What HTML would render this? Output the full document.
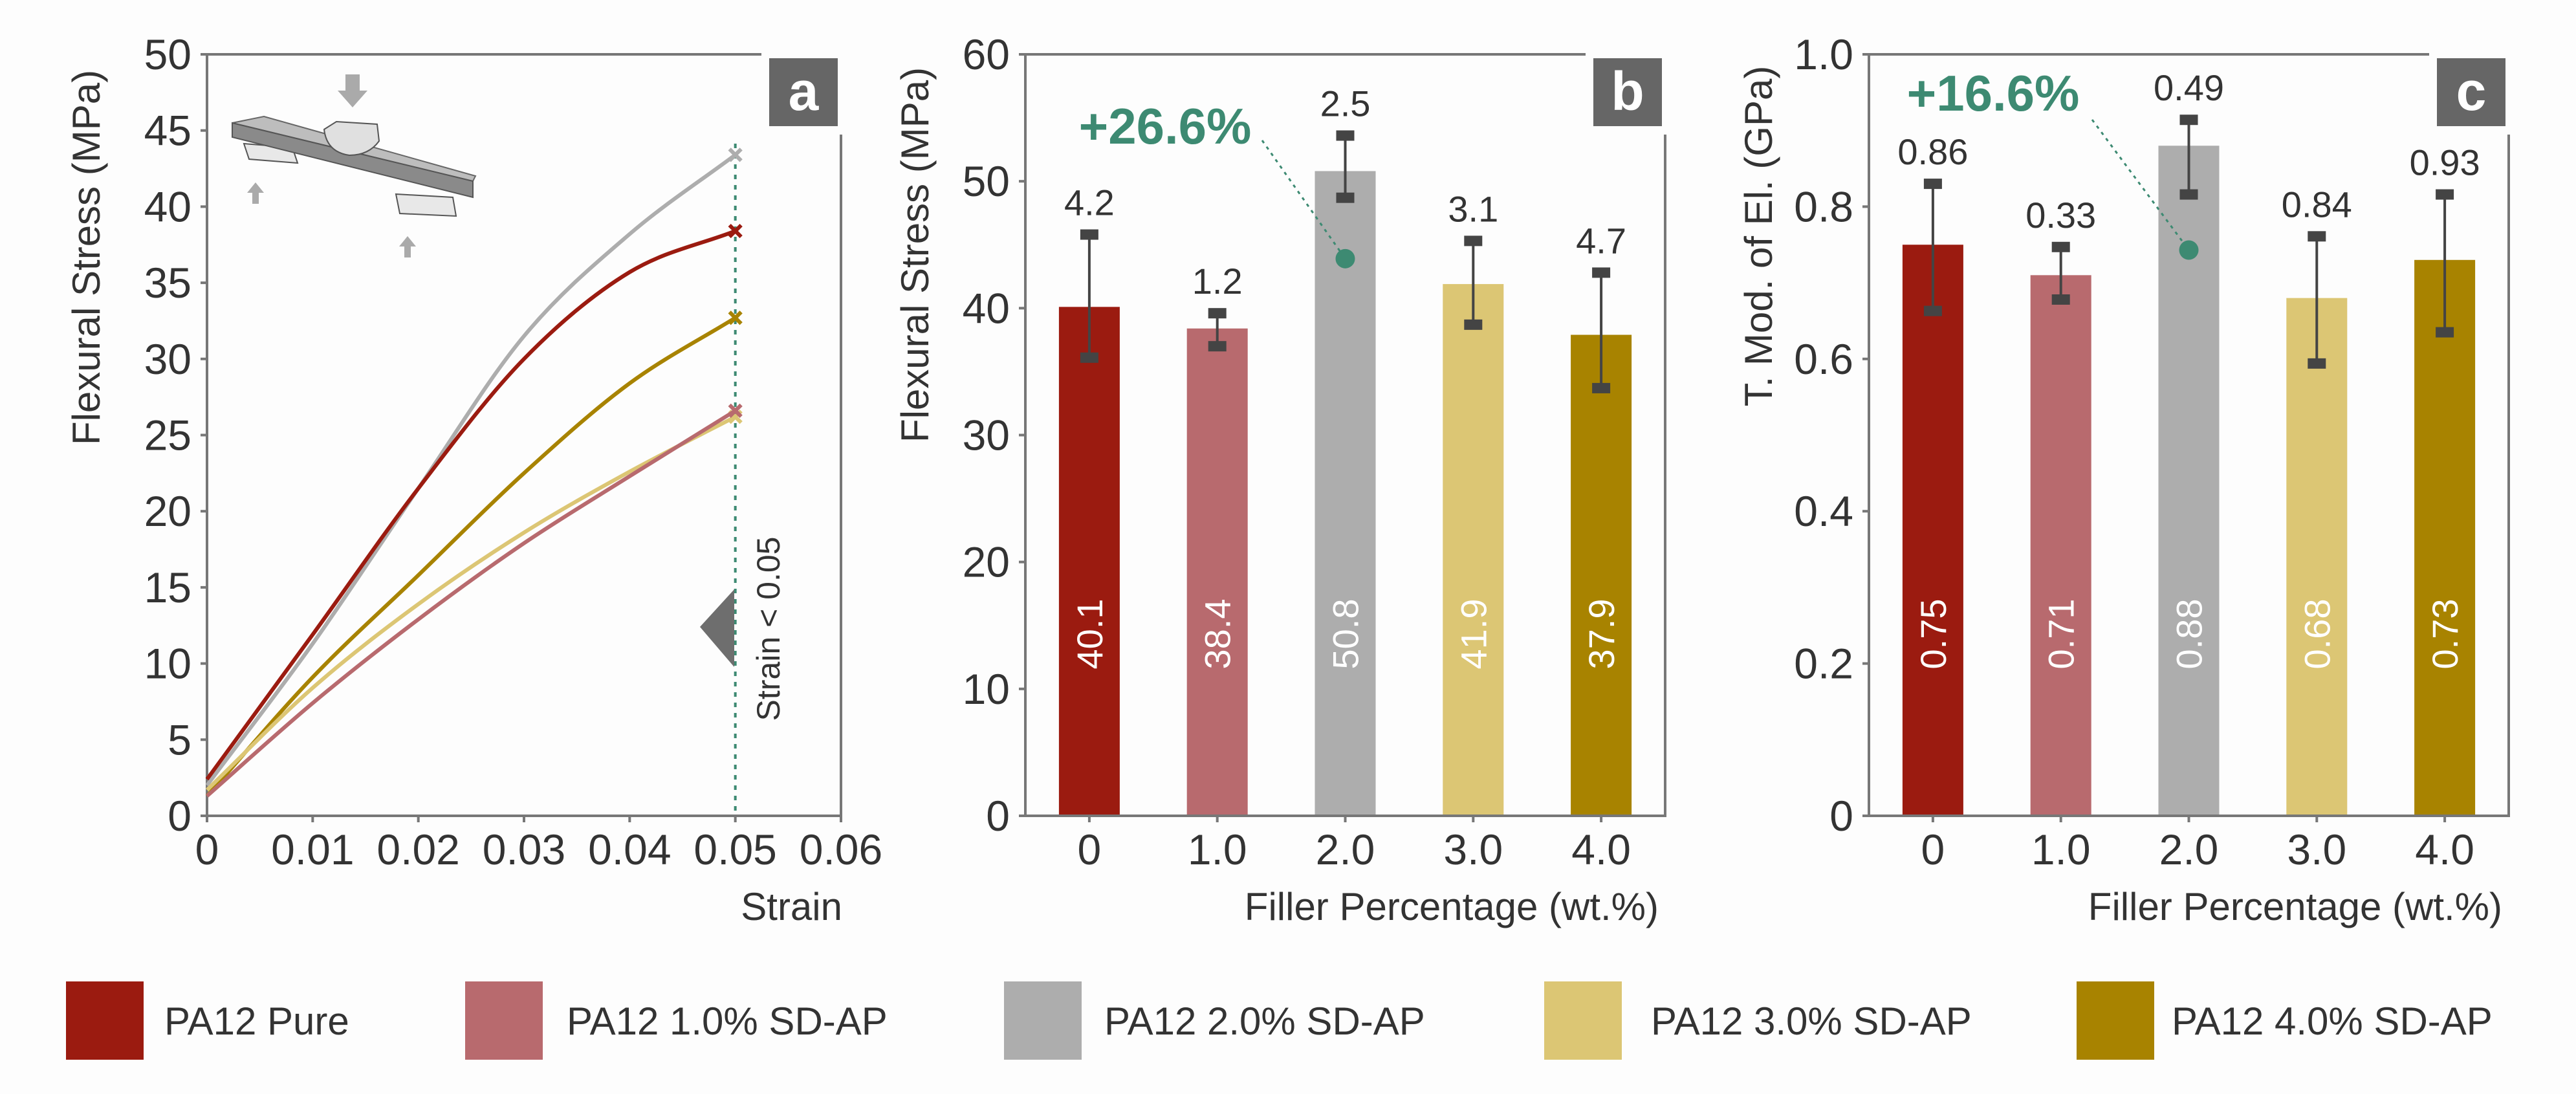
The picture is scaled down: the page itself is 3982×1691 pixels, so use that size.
<!DOCTYPE html>
<html><head><meta charset="utf-8">
<style>
html,body{margin:0;padding:0;background:#fff;}
svg{display:block;}
text{font-family:"Liberation Sans",sans-serif;fill:#333;}
</style></head>
<body>
<svg id="fig" xmlns="http://www.w3.org/2000/svg" width="3982" height="1691" viewBox="0 0 3982 1691">
<rect x="0" y="0" width="3982" height="1691" fill="#fdfdfd"/>
<g id="panelA"></g>
<g id="panelB"></g>
<g id="panelC"></g>
<g id="legend"></g>
</svg>
<script>
// ---------- data ----------
const seriesNames = ["PA12 Pure","PA12 1.0% SD-AP","PA12 2.0% SD-AP","PA12 3.0% SD-AP","PA12 4.0% SD-AP"];
const seriesColors = ["#9b1b10","#b86a6e","#adadad","#dcc674","#a88300"];
// panel a: stress at strain points
const strainPts = [0,0.01,0.02,0.03,0.04,0.05];
const curvePure = [2.4,11.9,21.5,30.0,35.7,38.4];
const curve10 = [1.3,7.4,12.9,17.9,22.3,26.6];
const curve20 = [2.0,11.3,21.5,31.5,38.2,43.4];
const curve30 = [1.7,8.4,13.9,18.6,22.6,26.2];
const curve40 = [1.3,9.1,15.8,22.5,28.4,32.7];
const aYTicks = [0,5,10,15,20,25,30,35,40,45,50];
const aXTicks = [0,0.01,0.02,0.03,0.04,0.05,0.06];
const aXTickLabels = ["0","0.01","0.02","0.03","0.04","0.05","0.06"];
// panel b
const categories = ["0","1.0","2.0","3.0","4.0"];
const bValues = [40.1,38.4,50.8,41.9,37.9];
const bSD = ["4.2","1.2","2.5","3.1","4.7"];
const bErrHi = [45.8,39.6,53.6,45.3,42.8];
const bErrLo = [36.1,37.0,48.7,38.7,33.7];
const bYTicks = [0,10,20,30,40,50,60];
const bMarker = 43.9;
// panel c
const cValues = [0.75,0.71,0.88,0.68,0.73];
const cSD = ["0.86","0.33","0.49","0.84","0.93"];
const cErrHi = [0.83,0.747,0.914,0.761,0.816];
const cErrLo = [0.663,0.678,0.816,0.594,0.635];
const cYTicks = [0,0.2,0.4,0.6,0.8,1.0];
const cYTickLabels = ["0","0.2","0.4","0.6","0.8","1.0"];
const cMarker = 0.743;

const NS="http://www.w3.org/2000/svg";
function mk(parent,tag,attrs,txt){const e=document.createElementNS(NS,tag);for(const k in attrs)e.setAttribute(k,attrs[k]);if(txt!==undefined)e.textContent=txt;parent.appendChild(e);return e;}

const AX="#777", Y0=1261, YTOP=84;

function frame(g,left,right,letter){
  let e;
  e=mk(g,'line',{x1:left,y1:YTOP-2,x2:left,y2:Y0,stroke:AX,'stroke-width':4});
  
  e=mk(g,'line',{x1:left-10,y1:Y0,x2:right+2,y2:Y0,stroke:AX,'stroke-width':4});
  
  e=mk(g,'line',{x1:left-10,y1:YTOP,x2:right-123,y2:YTOP,stroke:AX,'stroke-width':4});
  
  e=mk(g,'line',{x1:right,y1:208,x2:right,y2:Y0,stroke:AX,'stroke-width':4});
  
  e=mk(g,'rect',{x:right-111,y:90,width:106,height:105,fill:'#666'});
  
  e=mk(g,'text',{x:right-58,y:170,'text-anchor':'middle','font-size':84,'font-weight':'bold',style:'fill:#fff'},letter);
  
}

// ---------- panel a ----------
(function(){
  const g=document.getElementById('panelA');
  const L=320,R=1300;
  const xs=v=>L+v/0.06*(R-L);
  const ys=v=>Y0-v/50*(Y0-YTOP);
  frame(g,L,R,'a');
  aYTicks.forEach(t=>{
    let e=mk(g,'line',{x1:L-10,y1:ys(t),x2:L,y2:ys(t),stroke:AX,'stroke-width':4});
    
    e=mk(g,'text',{x:L-24,y:ys(t)+23,'text-anchor':'end','font-size':66},String(t));
    
  });
  aXTicks.forEach((t,i)=>{
    let e=mk(g,'line',{x1:xs(t),y1:Y0,x2:xs(t),y2:Y0+10,stroke:AX,'stroke-width':4});
    
    e=mk(g,'text',{x:xs(t),y:1336,'text-anchor':'middle','font-size':66},aXTickLabels[i]);
    
  });
  let e=mk(g,'text',{x:1302,y:1422,'text-anchor':'end','font-size':60},'Strain');
  
  e=mk(g,'text',{x:0,y:0,'text-anchor':'middle','font-size':60,transform:'translate(154,398) rotate(-90)'},'Flexural Stress (MPa)');
  
  const ill=mk(g,'g',{});
  
  mk(ill,'path',{d:'M377 222 L452 228 L460 252 L385 246 Z',fill:'#e8e8e8',stroke:'#555','stroke-width':2});
  mk(ill,'path',{d:'M612 300 L700 305 L705 334 L618 330 Z',fill:'#e8e8e8',stroke:'#555','stroke-width':2});
  mk(ill,'path',{d:'M359 190 L408 180 L735 272 L731 280 Z',fill:'#bdbdbd',stroke:'#666','stroke-width':2});
  mk(ill,'path',{d:'M359 190 L731 280 L731 305 L359 212 Z',fill:'#8a8a8a',stroke:'#555','stroke-width':2});
  mk(ill,'path',{d:'M501 200 L520 188 L583 192 L586 218 Q570 240 540 240 Q505 235 501 200 Z',fill:'#e0e0e0',stroke:'#555','stroke-width':2});
  mk(ill,'path',{d:'M534 115 L556 115 L556 140 L568 140 L545 166 L522 140 L534 140 Z',fill:'#aaa'});
  mk(ill,'path',{d:'M395 282 L408 298 L400 298 L400 315 L390 315 L390 298 L382 298 Z',fill:'#aaa'});
  mk(ill,'path',{d:'M630 365 L643 381 L635 381 L635 398 L625 398 L625 381 L617 381 Z',fill:'#aaa'});
  e=mk(g,'line',{x1:xs(0.05),y1:222,x2:xs(0.05),y2:Y0,stroke:'#3d8a72','stroke-width':4,'stroke-dasharray':'7 9'});
  
  e=mk(g,'path',{d:'M1082 969 L1135 911 L1135 1031 Z',fill:'#6e6e6e'});
  
  e=mk(g,'text',{x:0,y:0,'text-anchor':'middle','font-size':50,transform:'translate(1205,972) rotate(-90)'},'Strain < 0.05');
  
  const curves=[curvePure,curve10,curve20,curve30,curve40];
  const order=[2,0,4,3,1];
  order.forEach(si=>{
    const c=curves[si];
    const P=strainPts.map((s,i)=>[xs(s),ys(c[i])]);
    let d='M'+P[0][0]+' '+P[0][1];
    for(let i=0;i<P.length-1;i++){
      const p1=P[i],p2=P[i+1];
      const p0=i>0?P[i-1]:[2*p1[0]-p2[0],2*p1[1]-p2[1]];
      const p3=i+2<P.length?P[i+2]:[2*p2[0]-p1[0],2*p2[1]-p1[1]];
      const c1=[p1[0]+(p2[0]-p0[0])/6,p1[1]+(p2[1]-p0[1])/6];
      const c2=[p2[0]-(p3[0]-p1[0])/6,p2[1]-(p3[1]-p1[1])/6];
      d+=` C${c1[0]} ${c1[1]} ${c2[0]} ${c2[1]} ${p2[0]} ${p2[1]}`;
    }
    const path=mk(g,'path',{d:d,fill:'none',stroke:seriesColors[si],'stroke-width':6});
    
    
    const end=P[P.length-1];
    const m=mk(g,'path',{d:`M${end[0]-9} ${end[1]-9} L${end[0]+9} ${end[1]+9} M${end[0]-9} ${end[1]+9} L${end[0]+9} ${end[1]-9}`,stroke:seriesColors[si],'stroke-width':6,fill:'none'});
    
    
  });
})();

// ---------- bar panels ----------
function barPanel(gid,L,letter,vals,sdl,hi,lo,yTicks,yLabels,yMax,yTitle,pct,pctPos,marker,valFmt){
  const g=document.getElementById(gid);
  const R=L+989;
  const band=(R-L)/vals.length;
  const xc=i=>L+band*(i+0.5);
  const ys=v=>Y0-v/yMax*(Y0-YTOP);
  frame(g,L,R,letter);
  yTicks.forEach((t,i)=>{
    let e=mk(g,'line',{x1:L-10,y1:ys(t),x2:L,y2:ys(t),stroke:AX,'stroke-width':4});
    
    e=mk(g,'text',{x:L-24,y:ys(t)+23,'text-anchor':'end','font-size':66},yLabels[i]);
    
  });
  categories.forEach((c,i)=>{
    let e=mk(g,'line',{x1:xc(i),y1:Y0,x2:xc(i),y2:Y0+10,stroke:AX,'stroke-width':4});
    
    e=mk(g,'text',{x:xc(i),y:1336,'text-anchor':'middle','font-size':66},c);
    
  });
  let e=mk(g,'text',{x:R-10,y:1422,'text-anchor':'end','font-size':60},'Filler Percentage (wt.%)');
  
  e=mk(g,'text',{x:0,y:0,'text-anchor':'middle','font-size':60,transform:`translate(${L-150},${yTitle.cy}) rotate(-90)`},yTitle.t);
  
  vals.forEach((v,i)=>{
    const b=mk(g,'rect',{x:xc(i)-47,y:ys(v),width:94,height:Y0-2-ys(v),fill:seriesColors[i]});
    
    
    const vt=mk(g,'text',{x:0,y:0,'text-anchor':'middle','font-size':56,style:'fill:#fff',transform:`translate(${xc(i)+20},980) rotate(-90)`},valFmt(v));
    
    
    const eg=mk(g,'g',{});
    
    
    mk(eg,'line',{x1:xc(i),y1:ys(hi[i]),x2:xc(i),y2:ys(lo[i]),stroke:'#444','stroke-width':4});
    mk(eg,'rect',{x:xc(i)-14,y:ys(hi[i])-8,width:28,height:16,fill:'#444'});
    mk(eg,'rect',{x:xc(i)-14,y:ys(lo[i])-8,width:28,height:16,fill:'#444'});
    const st=mk(g,'text',{x:xc(i),y:ys(hi[i])-30,'text-anchor':'middle','font-size':56},sdl[i]);
    
    
  });
  const mx=xc(2), my=ys(marker);
  e=mk(g,'line',{x1:pctPos.lx,y1:pctPos.ly,x2:mx,y2:my,stroke:'#3d8a72','stroke-width':3,'stroke-dasharray':'5 7'});
  
  e=mk(g,'circle',{cx:mx,cy:my,r:15,fill:'#3d8a72'});
  
  e=mk(g,'text',{x:pctPos.x,y:pctPos.y,'text-anchor':'middle','font-size':78,'font-weight':'bold',style:'fill:#3d8a72'},pct);
  
}
barPanel('panelB',1585,'b',bValues,bSD,bErrHi,bErrLo,bYTicks,bYTicks.map(String),60,{t:'Flexural Stress (MPa)',cy:394},'+26.6%',{x:1801,y:222,lx:1951,ly:217},bMarker,v=>v.toFixed(1));
barPanel('panelC',2889,'c',cValues,cSD,cErrHi,cErrLo,cYTicks,cYTickLabels,1.0,{t:'T. Mod. of El. (GPa)',cy:365},'+16.6%',{x:3081,y:171,lx:3234,ly:185},cMarker,v=>v.toFixed(2));

// ---------- legend ----------
(function(){
  const g=document.getElementById('legend');
  const sx=[102,719,1552,2387,3210];
  const tx=[254,876,1707,2552,3357];
  seriesNames.forEach((n,i)=>{
    const r=mk(g,'rect',{x:sx[i],y:1517,width:120,height:121,fill:seriesColors[i]});
    
    
    const t=mk(g,'text',{x:tx[i],y:1599,'font-size':60},n);
    
    
  });
})();
</script>
</body></html>
